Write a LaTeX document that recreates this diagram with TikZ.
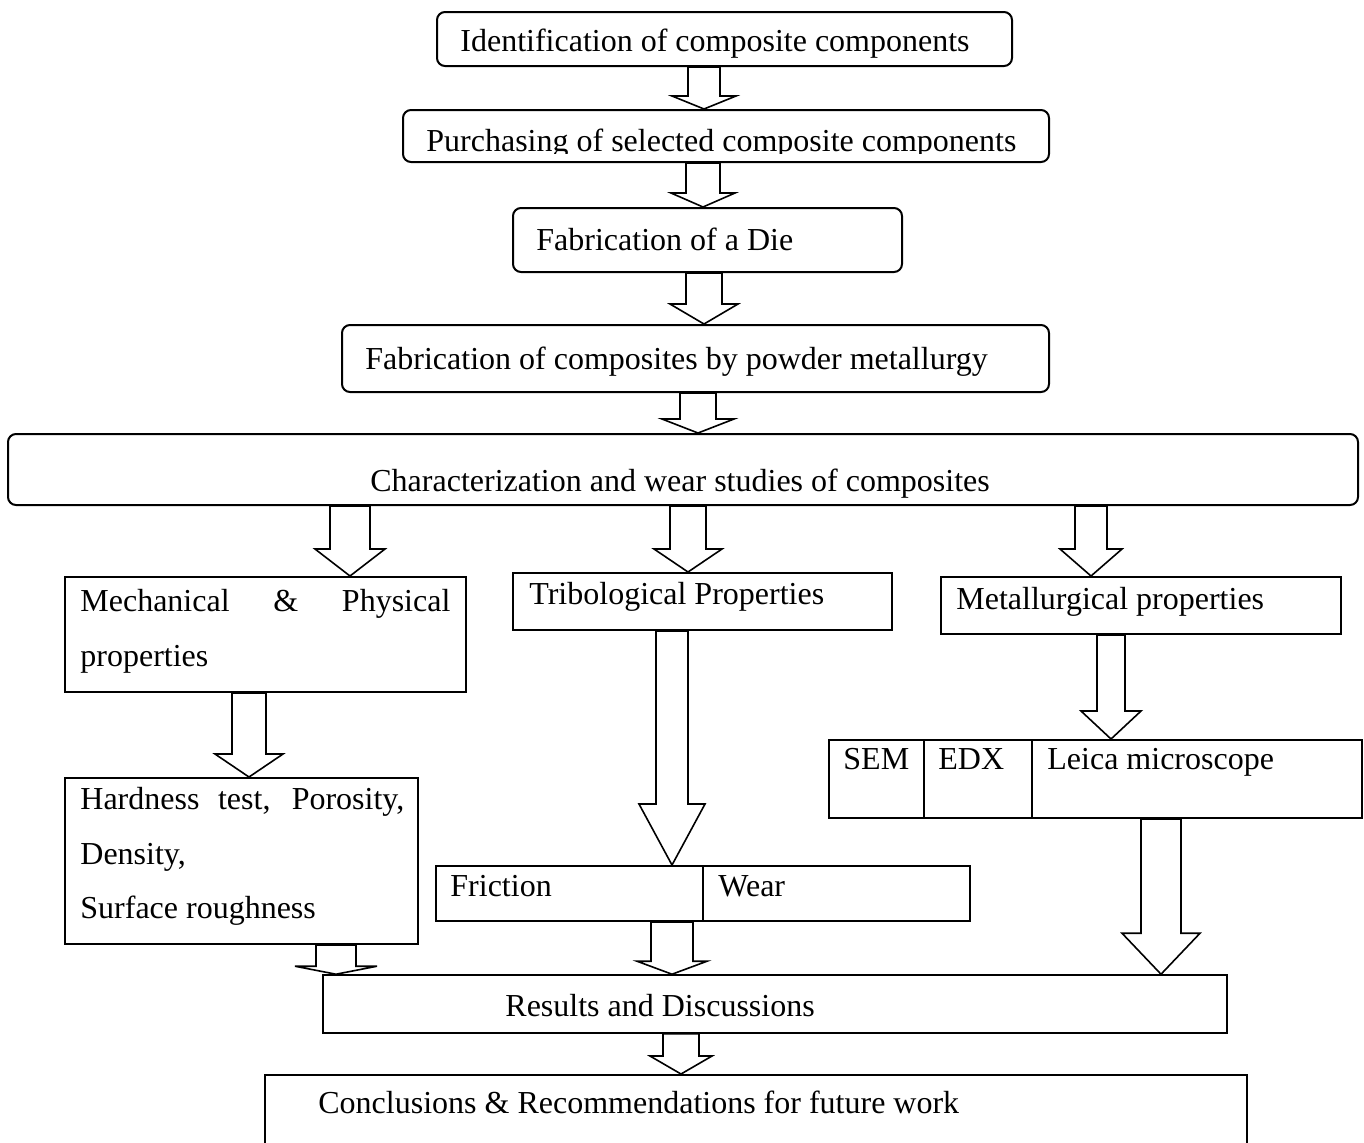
\documentclass[tikz,border=0pt]{standalone}
\usepackage{fontspec}
\setmainfont{Liberation Serif}
\usetikzlibrary{fit,calc}

\tikzset{
  boxline/.style={draw, line width=1pt, inner sep=0pt},
  roundbox/.style={boxline, rounded corners=4pt},
  boxtext/.style={font=\fontsize{16}{27.5}\selectfont, inner sep=0pt, anchor=base west},
  hollow/.style={draw, line width=0.8pt, fill=white, line join=miter}
}

% hollow block arrow: x, from, to, shaft half width, head half width, head length
\newcommand{\blockarrow}[6]{%
  \path (#1,0 |- #2.south) coordinate (ba-s) (#1,0 |- #3.north) coordinate (ba-t);
  \draw[hollow] ($(ba-s)+(-#4,0)$) -- ($(ba-t)+(-#4,-#6)$) -- ($(ba-t)+(-#5,-#6)$) -- (ba-t)
    -- ($(ba-t)+(#5,-#6)$) -- ($(ba-t)+(#4,-#6)$) -- ($(ba-s)+(#4,0)$) -- cycle;
}

\begin{document}
\begin{tikzpicture}[x=0.5pt, y=-0.5pt]
  \useasboundingbox (0,0) rectangle (1364,1142);
  \clip (0,0) rectangle (1364,1142);

  % preparation steps
  \node[roundbox, fit={(437,12) (1012,66)}] (ident) {};
  \node[boxtext] (identtxt) at (460,51) {Identification of composite components};
  \node[roundbox, fit={(403,110) (1049,162)}] (purch) {};
  \begin{scope}
    \clip (403,110) rectangle (1049,153);
    \node[boxtext] (purchtxt) at (426,151) {Purchasing of selected composite components};
  \end{scope}
  \node[roundbox, fit={(513,208) (902,272)}] (die) {};
  \node[boxtext] (dietxt) at (536,250) {Fabrication of a Die};
  \node[roundbox, fit={(342,325) (1049,392)}] (powder) {};
  \node[boxtext] (powdertxt) at (365,369) {Fabrication of composites by powder metallurgy};
  \node[roundbox, fit={(8,434) (1358,505)}] (charact) {};
  \node[boxtext] (characttxt) at (370,491) {Characterization and wear studies of composites};

  % studies
  \node[boxline, fit={(65,577) (466,692)}] (mech) {};
  \node[boxtext] (mechtxt) at (80,611) {\makebox[185pt][s]{Mechanical \hfill \& \hfill Physical}};
  \node[boxtext] (mechtxtb) at (80,666) {properties};
  \node[boxline, fit={(513,573) (892,630)}] (trib) {};
  \node[boxtext] (tribtxt) at (529,604) {Tribological Properties};
  \node[boxline, fit={(941,577) (1341,634)}] (metal) {};
  \node[boxtext] (metaltxt) at (956,609) {Metallurgical properties};

  \node[boxline, fit={(65,778) (418,944)}] (hard) {};
  \node[boxtext] (hardtxt) at (80,809) {\makebox[162pt][s]{Hardness test, Porosity,}};
  \node[boxtext] (hardtxtb) at (80,864) {Density,};
  \node[boxtext] (hardtxtc) at (80,918) {Surface roughness};

  \node[boxline, fit={(436,866) (970,921)}] (fricwear) {};
  \draw[line width=1pt] (fricwear.north -| 703,0) -- (fricwear.south -| 703,0);
  \node[boxtext] (frictxt) at (450,896) {Friction};
  \node[boxtext] (weartxt) at (718,896) {Wear};

  \node[boxline, fit={(829,740) (1362,818)}] (sem) {};
  \draw[line width=1pt] (sem.north -| 924,0) -- (sem.south -| 924,0);
  \draw[line width=1pt] (sem.north -| 1032,0) -- (sem.south -| 1032,0);
  \node[boxtext] (semtxt) at (843,769) {SEM};
  \node[boxtext] (edxtxt) at (938,769) {EDX};
  \node[boxtext] (leicatxt) at (1047,769) {Leica microscope};

  % outcome
  \node[boxline, line width=0.8pt, fit={(323,975) (1227,1033)}] (results) {};
  \node[boxtext] (resultstxt) at (505,1016) {Results and Discussions};
  \node[boxline, fit={(265,1075) (1247,1180)}] (concl) {};
  \node[boxtext] (concltxt) at (318,1113) {Conclusions \& Recommendations for future work};

  % arrows
  \blockarrow{704}{ident}{purch}{16}{32}{13}
  \blockarrow{703}{purch}{die}{17}{32}{14}
  \blockarrow{704}{die}{powder}{18}{34}{20}
  \blockarrow{698}{powder}{charact}{18}{36}{14}
  \blockarrow{350}{charact}{mech}{20}{35}{27}
  \blockarrow{688}{charact}{trib}{18}{34}{23}
  \blockarrow{1091}{charact}{metal}{16}{31}{27}
  \blockarrow{249}{mech}{hard}{17}{34}{23}
  \blockarrow{672}{trib}{fricwear}{16}{33}{61}
  \blockarrow{1111}{metal}{sem}{14}{30}{28}
  \blockarrow{336}{hard}{results}{20}{41}{8}
  \blockarrow{672}{fricwear}{results}{21}{35}{13}
  \blockarrow{1161}{sem}{results}{20}{39}{41}
  \blockarrow{681}{results}{concl}{18}{31}{18}
\end{tikzpicture}
\end{document}
